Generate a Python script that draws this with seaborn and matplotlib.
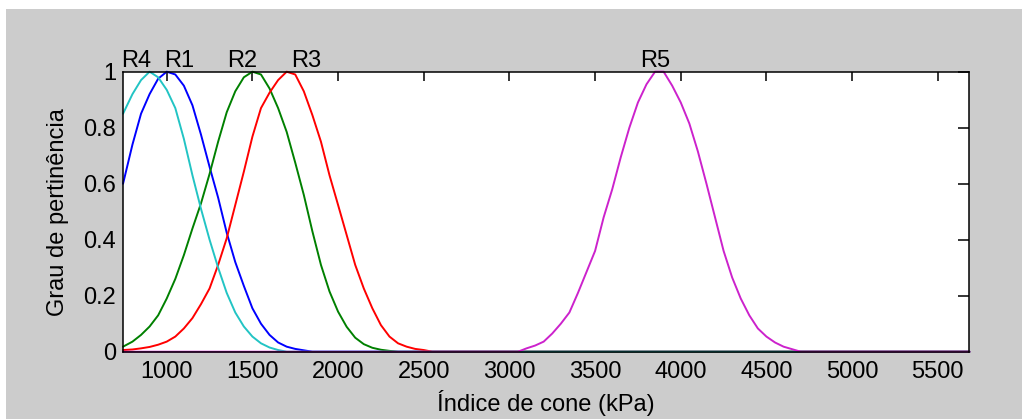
import matplotlib
matplotlib.use("Agg")
import matplotlib.pyplot as plt
from matplotlib.patches import Rectangle
import pandas as pd
import seaborn as sns

# Regiões de resistência (funções de pertinência)
regioes = ["R1", "R2", "R3", "R4", "R5"]

r1_x = [745, 800, 850, 900, 950, 1000, 1050, 1100, 1150, 1200, 1250, 1300, 1350,
        1400, 1450, 1500, 1550, 1600, 1650, 1700, 1750, 1800, 1850, 5685]
r1_y = [0.60, 0.74, 0.85, 0.92, 0.975, 1.0, 0.99, 0.95, 0.88, 0.775, 0.66, 0.55, 0.425,
        0.32, 0.235, 0.155, 0.10, 0.06, 0.033, 0.018, 0.01, 0.005, 0.0, 0.0]

r2_x = [745, 800, 850, 900, 950, 1000, 1050, 1100, 1150, 1200, 1250, 1300, 1350,
        1400, 1450, 1500, 1550, 1600, 1650, 1700, 1750, 1800, 1850, 1900, 1950,
        2000, 2050, 2100, 2150, 2200, 2250, 2300, 2350, 5685]
r2_y = [0.018, 0.036, 0.06, 0.09, 0.13, 0.19, 0.26, 0.345, 0.44, 0.53, 0.635, 0.75, 0.855,
        0.93, 0.98, 1.0, 0.99, 0.94, 0.87, 0.785, 0.675, 0.56, 0.43, 0.31, 0.215,
        0.143, 0.089, 0.05, 0.027, 0.014, 0.007, 0.003, 0.0, 0.0]

r3_x = [745, 800, 850, 900, 950, 1000, 1050, 1100, 1150, 1200, 1250, 1300, 1350,
        1400, 1450, 1500, 1550, 1600, 1650, 1700, 1750, 1800, 1850, 1900, 1950,
        2000, 2050, 2100, 2150, 2200, 2250, 2300, 2350, 2400, 2450, 2500, 2550, 5685]
r3_y = [0.006, 0.008, 0.012, 0.017, 0.025, 0.036, 0.054, 0.083, 0.12, 0.17, 0.226, 0.31, 0.405,
        0.524, 0.643, 0.768, 0.87, 0.925, 0.97, 1.0, 0.99, 0.93, 0.845, 0.75, 0.63,
        0.524, 0.417, 0.31, 0.226, 0.155, 0.095, 0.054, 0.03, 0.018, 0.01, 0.006, 0.0, 0.0]

r4_x = [745, 800, 850, 900, 950, 1000, 1050, 1100, 1150, 1200, 1250, 1300, 1350,
        1400, 1450, 1500, 1550, 1600, 1650, 1700, 5685]
r4_y = [0.85, 0.92, 0.97, 1.0, 0.98, 0.935, 0.87, 0.76, 0.63, 0.51, 0.40, 0.30, 0.21,
        0.14, 0.09, 0.054, 0.03, 0.015, 0.006, 0.0, 0.0]

r5_x = [745, 3050, 3100, 3150, 3200, 3250, 3300, 3350, 3400, 3450, 3500, 3550, 3600,
        3650, 3700, 3750, 3800, 3850, 3900, 3950, 4000, 4050, 4100, 4150, 4200,
        4250, 4300, 4350, 4400, 4450, 4500, 4550, 4600, 4650, 4700, 5685]
r5_y = [0.0, 0.0, 0.012, 0.022, 0.036, 0.065, 0.10, 0.14, 0.21, 0.285, 0.36, 0.48, 0.58,
        0.695, 0.80, 0.89, 0.955, 1.0, 1.0, 0.95, 0.89, 0.815, 0.715, 0.60, 0.48,
        0.36, 0.265, 0.19, 0.13, 0.083, 0.054, 0.033, 0.018, 0.009, 0.0, 0.0]

x_ticks = [1000, 1500, 2000, 2500, 3000, 3500, 4000, 4500, 5000, 5500]
y_ticks = [0, 0.2, 0.4, 0.6, 0.8, 1]
y_tick_labels = ["0", "0.2", "0.4", "0.6", "0.8", "1"]

series = {"R1": (r1_x, r1_y), "R2": (r2_x, r2_y), "R3": (r3_x, r3_y),
          "R4": (r4_x, r4_y), "R5": (r5_x, r5_y)}
frames = [pd.DataFrame({"regiao": nome, "indice": series[nome][0], "grau": series[nome][1]})
          for nome in regioes]
df = pd.concat(frames, ignore_index=True)

cores = {"R1": "#0000ff", "R2": "#008000", "R3": "#ff0000", "R4": "#22c4c4", "R5": "#cc22cc"}

sns.set_style("white")
plt.rcParams["font.family"] = ["Liberation Sans", "DejaVu Sans"]
plt.rcParams["font.size"] = 17
plt.rcParams["text.color"] = "black"
plt.rcParams["axes.labelcolor"] = "black"

fig = plt.figure(figsize=(10.22, 4.19), dpi=100, facecolor="white")
fig.patches.append(Rectangle((6 / 1022, 0), 1, 1 - 9 / 419, transform=fig.transFigure,
                             facecolor="#cccccc", edgecolor="none", zorder=-1))
ax = fig.add_axes([0.1204, 0.1606, 0.8282, 0.6683])
ax.set_facecolor("white")

sns.lineplot(data=df, x="indice", y="grau", hue="regiao", hue_order=regioes,
             palette=cores, estimator=None, sort=False, legend=False,
             linewidth=1.4, ax=ax)
for linha in ax.lines:
    linha.set_clip_on(False)

ax.set_xlim(745, 5685)
ax.set_ylim(0, 1)
ax.set_xticks(x_ticks)
ax.set_yticks(y_ticks)
ax.set_yticklabels(y_tick_labels)
ax.set_xlabel("Índice de cone (kPa)", fontsize=17, labelpad=5, color="black")
ax.set_ylabel("Grau de pertinência", fontsize=17, labelpad=10, color="black")

for lado in ax.spines.values():
    lado.set_visible(True)
    lado.set_color("black")
    lado.set_linewidth(1.1)
ax.tick_params(axis="both", direction="in", top=True, right=True, width=1.1,
               labelsize=17, colors="black", pad=5)
ax.tick_params(axis="x", length=6.5, pad=7)
ax.tick_params(axis="y", length=8)

# rótulos das regiões acima do gráfico
posicoes_rotulos = {"R4": 821, "R1": 1072, "R2": 1438, "R3": 1813, "R5": 3850}
for nome, xpos in posicoes_rotulos.items():
    ax.text(xpos, 1.0, nome, ha="center", va="bottom", fontsize=17, color="black",
            transform=ax.get_xaxis_transform())

fig.savefig("out.png", dpi=100, facecolor=fig.get_facecolor())
